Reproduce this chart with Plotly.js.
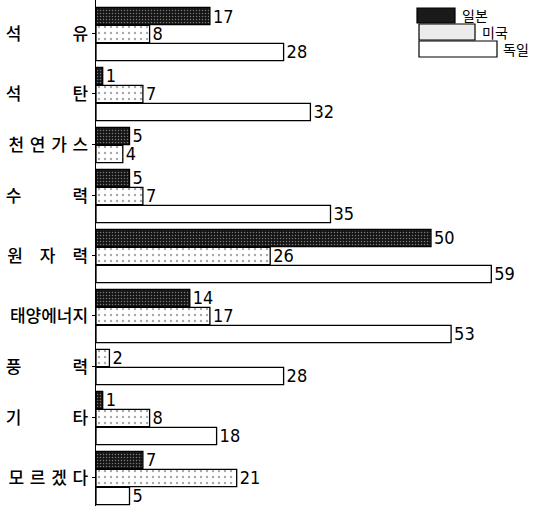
<!DOCTYPE html>
<html>
<head>
<meta charset="utf-8">
<script src="https://cdn.plot.ly/plotly-3.0.1.min.js"></script>
<style>html,body{margin:0;padding:0;background:#fff;}#chart{width:535px;height:506px;}</style>
</head>
<body>
<div id="chart"></div>
<script>
// ---- data ----
const categories = ['석유', '석탄', '천연가스', '수력', '원자력', '태양에너지', '풍력', '기타', '모르겠다'];
const tickLabels = [
  '석\u3000\u3000\u3000유',
  '석\u3000\u3000\u3000탄',
  '천\u2004연\u2004가\u2004스',
  '수\u3000\u3000\u3000력',
  '원\u3000자\u3000력',
  '태양에너지',
  '풍\u3000\u3000\u3000력',
  '기\u3000\u3000\u3000타',
  '모\u2004르\u2004겠\u2004다'
];
const seriesNames = ['일본', '미국', '독일'];
const japan   = [17, 1, 5, 5, 50, 14, null, 1, 7];
const usa     = [8, 7, 4, 7, 26, 17, 2, 8, 21];
const germany = [28, 32, null, 35, 59, 53, 28, 18, 5];

// ---- layout of slots (missing bars take no slot) ----
const seriesValues = [japan, usa, germany];
const GAP = 1 / 3;
const positions = seriesValues.map(() => []);
const tickvals = [];
let cursor = 0;
categories.forEach((c, i) => {
  const first = cursor;
  seriesValues.forEach((vals, s) => {
    if (vals[i] !== null) { positions[s][i] = cursor; cursor += 1; }
    else positions[s][i] = null;
  });
  tickvals.push((first + cursor - 1) / 2);
  cursor += GAP;
});
const lastBottom = cursor - GAP - 0.5;

const styles = [
  {color: '#141414', pattern: {shape: '.', bgcolor: '#141414', fgcolor: '#7a7a7a', size: 3, solidity: 0.2}},
  {color: '#ffffff', pattern: {shape: '.', bgcolor: '#ffffff', fgcolor: '#a8a8a8', size: 6, solidity: 0.12}},
  {color: '#ffffff'}
];

const numFont = {family: '"Liberation Sans Narrow", "DejaVu Sans Condensed", "Arial Narrow", sans-serif', size: 18, color: '#000'};

const traces = seriesValues.map((vals, s) => ({
  type: 'bar',
  orientation: 'h',
  name: seriesNames[s],
  x: vals,
  y: positions[s],
  width: 0.96,
  text: vals.map(v => v === null ? '' : String(v)),
  textposition: 'outside',
  textfont: numFont,
  constraintext: 'none',
  cliponaxis: false,
  marker: Object.assign({line: {color: '#000', width: 1.3}}, styles[s]),
  hoverinfo: 'skip',
  showlegend: false
}));

// legend drawn as a small stacked key (paper coordinates)
const L = 96, W = 535 - 96, H = 506;
const px = x => (x - L) / W;
const py = y => 1 - y / H;
const keyBoxes = [
  {x0: 417, x1: 455, y0: 8, y1: 23, fill: '#1a1a1a', tx: 460, ty: 15},
  {x0: 419, x1: 475, y0: 24, y1: 40, fill: '#ececec', tx: 480, ty: 32},
  {x0: 419, x1: 497, y0: 41, y1: 57, fill: '#ffffff', tx: 501, ty: 49}
];
const shapes = keyBoxes.map(b => ({
  type: 'rect', xref: 'paper', yref: 'paper',
  x0: px(b.x0), x1: px(b.x1), y0: py(b.y1), y1: py(b.y0),
  fillcolor: b.fill, line: {color: '#000', width: 1.2}
}));
const annotations = keyBoxes.map((b, s) => ({
  xref: 'paper', yref: 'paper', x: px(b.tx), y: py(b.ty),
  xanchor: 'left', yanchor: 'middle', showarrow: false,
  text: seriesNames[s],
  font: {family: '"Noto Sans CJK KR", sans-serif', size: 14, color: '#000'}
}));

const layout = {
  width: 535, height: 506,
  margin: {l: L, r: 0, t: 0, b: 0},
  paper_bgcolor: '#fff', plot_bgcolor: '#fff',
  barmode: 'overlay',
  showlegend: false,
  xaxis: {range: [0, W / 6.7], showgrid: false, zeroline: false, showticklabels: false, showline: false, ticks: ''},
  yaxis: {
    range: [lastBottom + 0.06, -0.5 - 7 / 18],
    tickvals: tickvals, ticktext: tickLabels,
    showgrid: false, zeroline: false,
    showline: true, linecolor: '#000', linewidth: 1.5,
    ticks: 'outside', ticklen: 3, tickcolor: '#000', tickwidth: 1,
    tickfont: {family: '"Noto Sans CJK KR", sans-serif', size: 17, color: '#000', weight: 500}
  },
  shapes: shapes,
  annotations: annotations
};

Plotly.newPlot('chart', traces, layout, {staticPlot: true, displayModeBar: false});
</script>
</body>
</html>
